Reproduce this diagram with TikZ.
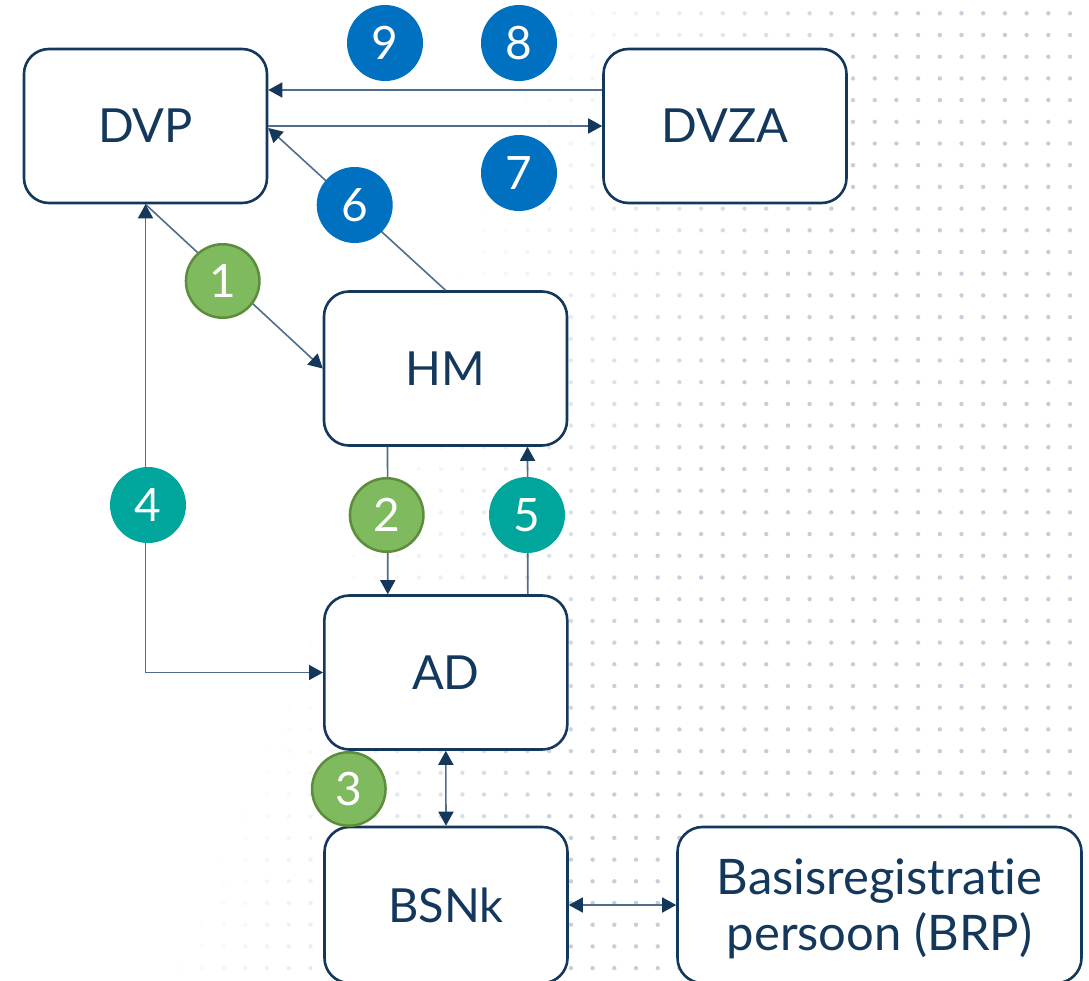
\documentclass[tikz,border=0pt]{standalone}
\usepackage{fontspec}
\setmainfont{Lato}[Ligatures=NoCommon]
\usetikzlibrary{arrows.meta}
\definecolor{navy}{RGB}{19,56,92}
\definecolor{wire}{RGB}{80,110,140}
\definecolor{stepblue}{RGB}{0,112,192}
\definecolor{stepgreen}{RGB}{127,186,94}
\definecolor{stepgreenline}{RGB}{92,140,60}
\definecolor{stepteal}{RGB}{0,166,156}
\definecolor{gridgrey}{RGB}{196,207,220}

\begin{document}
\begin{tikzpicture}[x=1pt,y=-1pt,
  box/.style={draw=navy, line width=2.6pt, rounded corners=25pt, fill=white,
    text=navy, minimum width=243pt, minimum height=154pt, inner sep=0pt,
    font=\fontsize{47}{55}\selectfont},
  conn/.style={draw=wire, line width=1.6pt},
  >={Triangle[length=14pt,width=15pt,color=navy]},
  numc/.style={circle, minimum size=76pt, inner sep=0pt, text=white,
    font=\fontsize{46}{50}\selectfont},
  bluenum/.style={numc, fill=stepblue},
  tealnum/.style={numc, fill=stepteal},
  greennum/.style={numc, fill=stepgreen, draw=stepgreenline, line width=2.5pt,
    minimum size=73.5pt}]

% canvas
\fill[white] (0,0) rectangle (1089,980);
\useasboundingbox (0,0) rectangle (1089,980);

% fading dot grid in the background
\foreach \i in {0,...,49}{
  \foreach \j in {0,...,44}{
    \pgfmathsetmacro\px{1070-21.7*\i}
    \pgfmathsetmacro\py{13.3+21.7*\j}
    \pgfmathsetmacro\f{min(100,(\px-555+0.4*\py)/3.5)}
    \ifdim\f pt>3pt
      \fill[gridgrey!\f!white] (\px,\py) circle[radius=2.2pt];
    \fi
  }
}

% components
\node[box] (dvp)  at (145.5,126)   {DVP};
\node[box] (dvza) at (725,126)     {DVZA};
\node[box] (hm)   at (445.5,368.5) {HM};
\node[box] (ad)   at (445.8,672.5) {AD};
\node[box, minimum height=156pt] (bsnk) at (446,905) {BSNk};
\node[box, minimum width=404pt, minimum height=156pt, align=center,
      text depth=0pt, font=\fontsize{49}{56}\selectfont] (brp)
      at (879.5,905) {Basisregistratie\\persoon (BRP)};

% message flows
\draw[conn,->] ([yshift=36pt]dvza.west) -- ([yshift=36pt]dvp.east);
\draw[conn,->] (dvp.east) -- (dvza.west);
\draw[conn,->] (hm.north) -- ([yshift=-2pt]dvp.east);
\draw[conn,->] (dvp.south) -- (hm.west);
\draw[conn,<->] (dvp.south) |- (ad.west);
\draw[conn,->] ([xshift=-58pt]hm.south) -- ([xshift=-58pt]ad.north);
\draw[conn,->] ([xshift=82pt]ad.north) -- ([xshift=82pt]hm.south);
\draw[conn,<->] (ad.south) -- (bsnk.north);
\draw[conn,<->] (bsnk.east) -- (brp.west);

% step numbers
\node[greennum] (s1) at (222.7,281) {1};
\node[greennum] (s2) at (386.7,515) {2};
\node[greennum] (s3) at (348.8,789) {3};
\node[tealnum]  (s4) at (148,505)   {4};
\node[tealnum]  (s5) at (527,515)   {5};
\node[bluenum]  (s6) at (354.7,205) {6};
\node[bluenum]  (s7) at (519,173)   {7};
\node[bluenum]  (s8) at (519,43)    {8};
\node[bluenum]  (s9) at (385,43)    {9};
\end{tikzpicture}
\end{document}
